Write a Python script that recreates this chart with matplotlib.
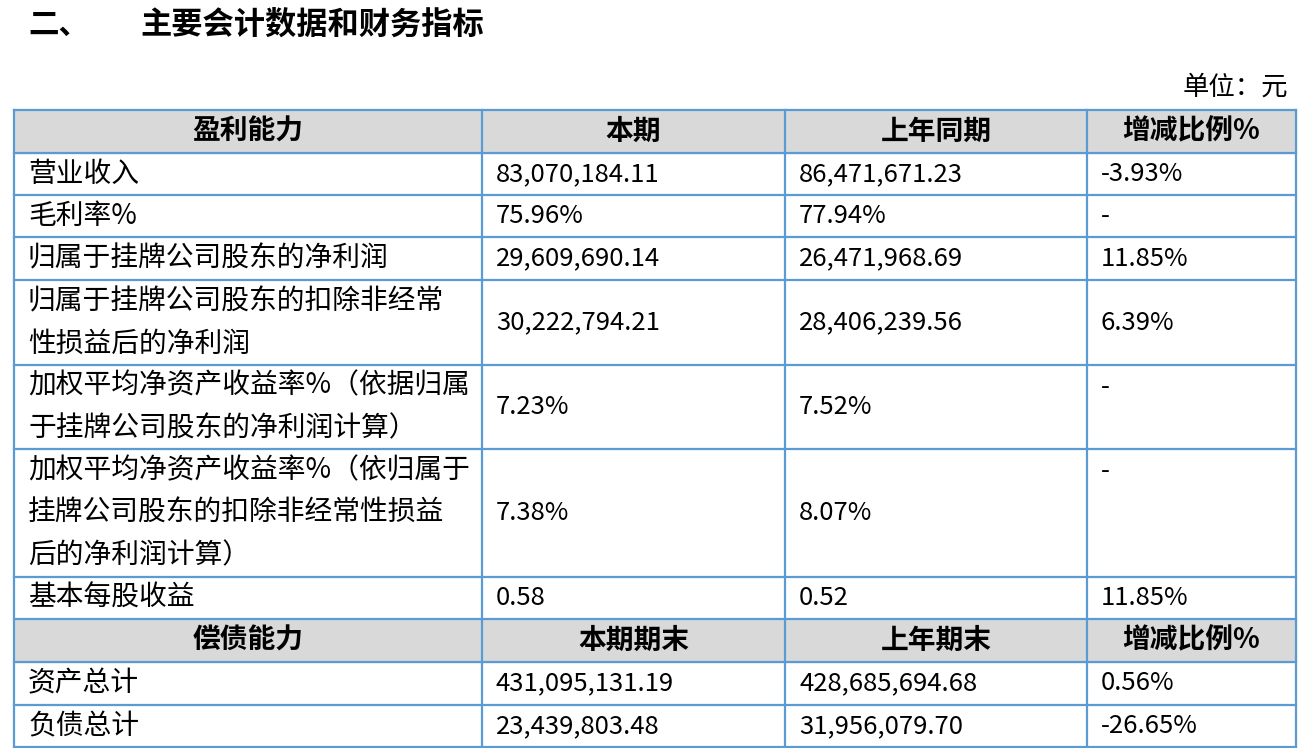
import matplotlib
matplotlib.use("Agg")
import matplotlib.pyplot as plt
from matplotlib.patches import Rectangle

plt.rcParams['font.family'] = ['Noto Sans CJK SC', 'DejaVu Sans']

title_num = "二、"
title = "主要会计数据和财务指标"
unit = "单位：元"
header1 = ["盈利能力", "本期", "上年同期", "增减比例%"]
header2 = ["偿债能力", "本期期末", "上年期末", "增减比例%"]
labels1 = ["营业收入", "毛利率%", "归属于挂牌公司股东的净利润",
           "归属于挂牌公司股东的扣除非经常\n性损益后的净利润",
           "加权平均净资产收益率%（依据归属\n于挂牌公司股东的净利润计算）",
           "加权平均净资产收益率%（依归属于\n挂牌公司股东的扣除非经常性损益\n后的净利润计算）",
           "基本每股收益"]
cur1 = ["83,070,184.11", "75.96%", "29,609,690.14", "30,222,794.21", "7.23%", "7.38%", "0.58"]
prev1 = ["86,471,671.23", "77.94%", "26,471,968.69", "28,406,239.56", "7.52%", "8.07%", "0.52"]
chg1 = ["-3.93%", "-", "11.85%", "6.39%", "-", "-", "11.85%"]
labels2 = ["资产总计", "负债总计"]
cur2 = ["431,095,131.19", "23,439,803.48"]
prev2 = ["428,685,694.68", "31,956,079.70"]
chg2 = ["0.56%", "-26.65%"]

W, H = 1312, 748
fig = plt.figure(figsize=(W/100, H/100), dpi=100)
ax = fig.add_axes([0, 0, 1, 1])
ax.set_xlim(0, W); ax.set_ylim(H, 0); ax.axis('off')

xs = [14, 482, 785, 1087, 1296]
rows = [110, 153, 195, 237, 280, 365, 449, 577, 619, 662, 705, 747]
line = '#5b9bd5'
fs = 20
fn = 18.5

ax.text(28, 25, title_num, fontsize=22, fontweight='bold', va='center', ha='left')
ax.text(140, 25, title, fontsize=22.5, fontweight='bold', va='center', ha='left')
ax.text(1288, 87, unit, fontsize=19, va='center', ha='right')

def header(r0, r1, hdr):
    ax.add_patch(Rectangle((xs[0], r0), xs[-1]-xs[0], r1-r0, color='#d9d9d9', zorder=0))
    for i, t in enumerate(hdr):
        ax.text((xs[i]+xs[i+1])/2, (r0+r1)/2, t, fontsize=fs, fontweight='bold', ha='center', va='center')

header(rows[0], rows[1], header1)
header(rows[8], rows[9], header2)

def body(ri, lab, a, b, c):
    r0, r1 = rows[ri], rows[ri+1]
    yc = (r0+r1)/2
    ax.text(xs[0]+14, yc, lab, fontsize=fs, ha='left', va='center', linespacing=1.55)
    ax.text(xs[1]+14, yc, a, fontsize=fn, ha='left', va='center')
    ax.text(xs[2]+14, yc, b, fontsize=fn, ha='left', va='center')
    if c == '-' and lab.count('\n') >= 1:
        ax.text(xs[3]+14, r0+22, c, fontsize=fn, ha='left', va='center')
    else:
        ax.text(xs[3]+14, yc, c, fontsize=fn, ha='left', va='center')

for i in range(len(labels1)):
    body(1+i, labels1[i], cur1[i], prev1[i], chg1[i])
for i in range(len(labels2)):
    body(9+i, labels2[i], cur2[i], prev2[i], chg2[i])

for y in rows:
    ax.plot([xs[0], xs[-1]], [y, y], color=line, lw=1.6)
for x in xs:
    ax.plot([x, x], [rows[0], rows[-1]], color=line, lw=1.6)

fig.savefig('out.png', dpi=100)
